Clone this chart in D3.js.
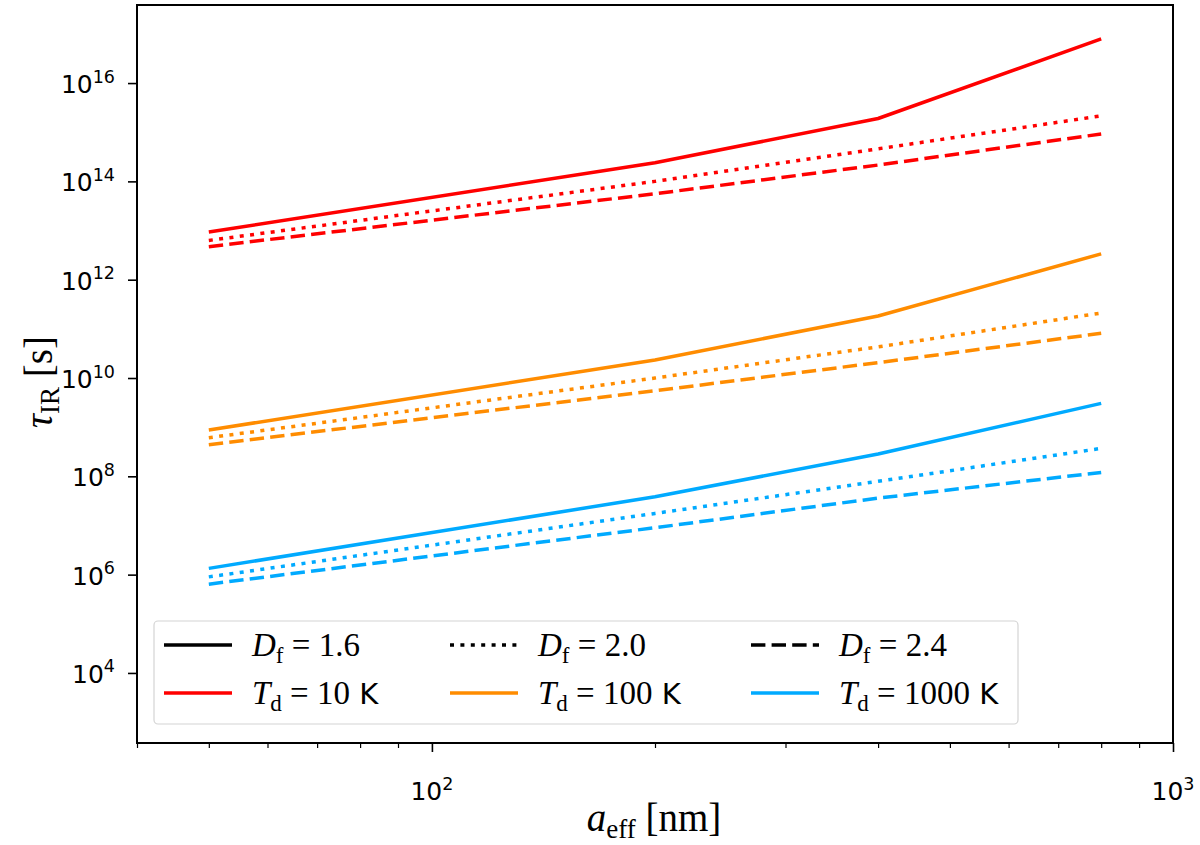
<!DOCTYPE html>
<html>
<head>
<meta charset="utf-8">
<script src="https://cdn.jsdelivr.net/npm/d3@7"></script>
<style>
  body { margin: 0; background: #fff; }
  svg { display: block; }
</style>
</head>
<body>
<div id="chart"></div>
<script>
// grain size a_eff [nm]
var aEff = [50, 200, 400, 800];

// tau_IR [s], one array per (T_d, D_f)
var tauT10Df16 = [9.3e12, 2.4e14, 1.9e15, 7.9e16];
var tauT10Df20 = [6.3e12, 1.0e14, 4.6e14, 2.15e15];
var tauT10Df24 = [4.7e12, 5.6e13, 2.15e14, 9.2e14];

var tauT100Df16 = [8.75e8, 2.33e10, 1.83e11, 3.35e12];
var tauT100Df20 = [6.1e8, 1.0e10, 4.3e10, 2.1e11];
var tauT100Df24 = [4.4e8, 5.5e9, 2.05e10, 8.1e10];

var tauT1000Df16 = [1.34e6, 3.84e7, 2.85e8, 3.05e9];
var tauT1000Df20 = [9.0e5, 1.76e7, 7.9e7, 3.7e8];
var tauT1000Df24 = [6.4e5, 9.0e6, 3.6e7, 1.2e8];

var temps = [10, 100, 1000];
var fractalDims = ["1.6", "2.0", "2.4"];
var yTickExps = [4, 6, 8, 10, 12, 14, 16];
var xMajorTicks = [100, 1000];
var xMinorTicks = [40, 50, 60, 70, 80, 90, 200, 300, 400, 500, 600, 700, 800, 900];

var colors = ["#ff0000", "#ff8c00", "#00aaff"];
var lw = 3.5;
var dashes = [null, "4,6.4", "14.4,6.2"];

var series = [
    {t: 0, d: 0, v: tauT10Df16}, {t: 0, d: 1, v: tauT10Df20}, {t: 0, d: 2, v: tauT10Df24},
    {t: 1, d: 0, v: tauT100Df16}, {t: 1, d: 1, v: tauT100Df20}, {t: 1, d: 2, v: tauT100Df24},
    {t: 2, d: 0, v: tauT1000Df16}, {t: 2, d: 1, v: tauT1000Df20}, {t: 2, d: 2, v: tauT1000Df24}
];

var width = 1200, height = 845;
var plotLeft = 137, plotRight = 1173, plotTop = 5, plotBottom = 743;

var mathFont = "'Liberation Serif', 'DejaVu Serif', serif";
var sansFont = "'DejaVu Sans', sans-serif";

var svg = d3.select("#chart").append("svg")
        .attr("width", width)
        .attr("height", height);

var x = d3.scaleLog().domain([40, 1000]).range([plotLeft, plotRight]);
var y = d3.scaleLog().domain([Math.pow(10, 2.575), Math.pow(10, 17.588)]).range([plotBottom, plotTop]);

// lines
var line = d3.line()
        .x(function(d, i) { return x(aEff[i]); })
        .y(function(d) { return y(d); });

var plot = svg.append("g");
series.forEach(function(s) {
    plot.append("path")
            .attr("d", line(s.v))
            .attr("fill", "none")
            .attr("stroke", colors[s.t])
            .attr("stroke-width", lw)
            .attr("stroke-dasharray", dashes[s.d])
            .attr("stroke-linejoin", "round");
});

// y axis (ticks from d3, labels by hand so the 10^n look right)
var yAxis = d3.axisLeft(y).tickValues(yTickExps.map(function(e) { return Math.pow(10, e); }))
        .tickSize(9).tickFormat("");
var gy = svg.append("g").attr("transform", "translate(" + plotLeft + ",0)").call(yAxis);
gy.select(".domain").remove();
gy.selectAll(".tick line").attr("stroke", "#000").attr("stroke-width", 1.6);

function powLabel(t, e) {
    t.append("tspan").text("10");
    t.append("tspan").attr("font-size", "17.5px").attr("dy", -10.5).text(e);
}

yTickExps.forEach(function(e) {
    var t = svg.append("text")
            .attr("x", 115)
            .attr("y", y(Math.pow(10, e)) + 10)
            .attr("text-anchor", "end")
            .attr("font-family", sansFont)
            .attr("font-size", "25px")
            .attr("fill", "#000");
    powLabel(t, e);
});

// x axis
var gxMinor = svg.append("g").attr("transform", "translate(0," + plotBottom + ")")
        .call(d3.axisBottom(x).tickValues(xMinorTicks).tickSize(5).tickFormat(""));
gxMinor.select(".domain").remove();
gxMinor.selectAll(".tick line").attr("stroke", "#000").attr("stroke-width", 1.2);

var gxMajor = svg.append("g").attr("transform", "translate(0," + plotBottom + ")")
        .call(d3.axisBottom(x).tickValues(xMajorTicks).tickSize(9).tickFormat(""));
gxMajor.select(".domain").remove();
gxMajor.selectAll(".tick line").attr("stroke", "#000").attr("stroke-width", 1.6);

xMajorTicks.forEach(function(v) {
    var t = svg.append("text")
            .attr("x", x(v))
            .attr("y", 800)
            .attr("text-anchor", "middle")
            .attr("font-family", sansFont)
            .attr("font-size", "25px")
            .attr("fill", "#000");
    powLabel(t, Math.round(Math.log10(v)));
});

// frame
svg.append("rect")
        .attr("x", plotLeft)
        .attr("y", plotTop)
        .attr("width", plotRight - plotLeft)
        .attr("height", plotBottom - plotTop)
        .attr("fill", "none")
        .attr("stroke", "#000")
        .attr("stroke-width", 2);

// axis labels
var xl = svg.append("text")
        .attr("x", 654)
        .attr("y", 831)
        .attr("text-anchor", "middle")
        .attr("font-family", mathFont)
        .attr("font-size", "39px")
        .attr("fill", "#000");
xl.append("tspan").attr("font-style", "italic").text("a");
xl.append("tspan").attr("font-size", "27px").attr("dy", 7).text("eff");
xl.append("tspan").attr("dy", -7).text(" [nm]");

var yl = svg.append("text")
        .attr("transform", "translate(52,382) rotate(-90)")
        .attr("text-anchor", "middle")
        .attr("font-family", mathFont)
        .attr("font-size", "39px")
        .attr("fill", "#000");
yl.append("tspan").attr("font-style", "italic").text("τ");
yl.append("tspan").attr("font-size", "27px").attr("dy", 7).text("IR");
yl.append("tspan").attr("dy", -7).text(" [s]");

// legend
var legend = svg.append("g");
legend.append("rect")
        .attr("x", 154)
        .attr("y", 621)
        .attr("width", 864)
        .attr("height", 103)
        .attr("rx", 4)
        .attr("fill", "#fff")
        .attr("fill-opacity", 0.8)
        .attr("stroke", "#d4d4d4")
        .attr("stroke-width", 1.2);

var colHandleX = [164, 450, 751];
var colTextX = [252, 538, 839];
var rowY = [645, 693];

function legendHandle(col, row, color, dash) {
    legend.append("line")
            .attr("x1", colHandleX[col])
            .attr("x2", colHandleX[col] + 68)
            .attr("y1", rowY[row])
            .attr("y2", rowY[row])
            .attr("stroke", color)
            .attr("stroke-width", lw)
            .attr("stroke-dasharray", dash);
}

function legendLabel(col, row, sym, sub, rest, unit) {
    var t = legend.append("text")
            .attr("x", colTextX[col])
            .attr("y", rowY[row] + 11)
            .attr("font-family", mathFont)
            .attr("font-size", "33px")
            .attr("fill", "#000");
    t.append("tspan").attr("font-style", "italic").text(sym);
    t.append("tspan").attr("font-size", "23px").attr("dy", 7).text(sub);
    t.append("tspan").attr("dy", -7).text(" = " + rest);
    if (unit) {
        t.append("tspan").attr("font-family", sansFont).attr("font-size", "29px").text(" " + unit);
    }
}

fractalDims.forEach(function(df, i) {
    legendHandle(i, 0, "#000", dashes[i]);
    legendLabel(i, 0, "D", "f", df, null);
});
temps.forEach(function(td, i) {
    legendHandle(i, 1, colors[i], null);
    legendLabel(i, 1, "T", "d", td, "K");
});
</script>
</body>
</html>
